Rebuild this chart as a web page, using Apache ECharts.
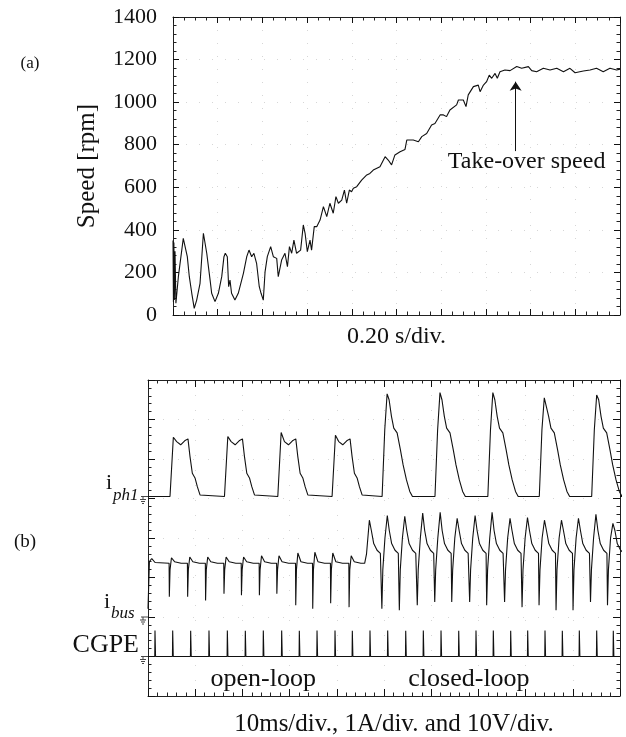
<!DOCTYPE html>
<html>
<head>
<meta charset="utf-8">
<title>Speed and currents</title>
<script src="https://cdn.jsdelivr.net/npm/echarts@6/dist/echarts.min.js"></script>
<style>
  html, body { margin: 0; padding: 0; background: #fff; }
  #main { width: 626px; height: 737px; }
</style>
</head>
<body>
<div id="main"></div>
<script>
var serif = "'Liberation Serif', 'Times New Roman', serif";

// ---- (a) speed trace, time in s (0.20 s/div), speed in rpm
var speedTime = [0.000,0.002,0.004,0.006,0.009,0.013,0.024,0.046,0.054,0.064,0.073,0.084,0.095,0.106,0.121,0.136,0.140,0.151,0.166,0.173,0.188,0.203,0.218,0.228,0.234,0.243,0.249,0.255,0.262,0.277,0.292,0.315,0.330,0.340,0.352,0.362,0.374,0.386,0.394,0.404,0.412,0.422,0.437,0.449,0.464,0.471,0.486,0.501,0.512,0.521,0.531,0.541,0.553,0.571,0.583,0.591,0.601,0.613,0.620,0.632,0.643,0.658,0.673,0.688,0.702,0.717,0.729,0.740,0.755,0.767,0.777,0.789,0.799,0.807,0.822,0.844,0.867,0.881,0.896,0.926,0.949,0.963,0.978,0.993,1.016,1.038,1.046,1.075,1.098,1.113,1.135,1.157,1.172,1.195,1.210,1.224,1.239,1.269,1.277,1.299,1.311,1.321,1.344,1.366,1.374,1.389,1.403,1.415,1.426,1.441,1.451,1.463,1.485,1.508,1.538,1.560,1.590,1.605,1.627,1.657,1.687,1.717,1.747,1.776,1.799,1.836,1.866,1.895,1.925,1.955,1.985,2.000];
var speedRpm = [350,60,340,70,300,55,180,360,352,274,180,102,31,70,149,384,391,290,164,102,63,102,180,274,290,274,133,164,102,70,102,196,274,305,274,290,243,133,102,70,204,274,321,274,266,180,258,290,227,321,290,352,290,305,423,384,298,352,305,415,415,446,509,462,525,478,556,525,540,587,525,587,579,595,603,634,658,665,681,697,744,728,705,752,767,778,822,822,814,838,853,893,900,940,940,932,963,987,1010,1010,979,1034,1073,1080,1049,1080,1096,1127,1112,1135,1112,1143,1151,1148,1167,1159,1167,1148,1143,1159,1151,1159,1143,1159,1138,1146,1151,1159,1143,1159,1151,1155];
var takeOver = [1.533, 770, 1096];   // time, arrow foot, arrow tip

// ---- (b) scope traces, time in ms (10 ms/div), 8 vertical divisions
var groundPh = 5.05, groundBus = 2.0, groundCg = 1.0;   // trace ground levels [div]

// i_ph1 [A]: pulse starts, peaks and the two pulse shapes
var phStart = [4.66, 16.2, 27.5, 39.0, 49.6, 60.8, 72.0, 82.9, 94.0];
var phPeak  = [1.50, 1.52, 1.62, 1.55, 2.60, 2.63, 2.63, 2.50, 2.57];
var phOpenT   = [0, 0.71, 1.41, 2.26, 3.11, 3.81, 4.24, 4.73, 5.30, 5.79, 6.36, 6.64];
var phOpenA   = [0, 1.50, 1.39, 1.31, 1.41, 1.46, 1.01, 0.59, 0.47, 0.25, 0.04, 0];
var phClosedT = [0, 0.56, 1.06, 1.48, 1.98, 2.47, 3.18, 3.60, 3.88, 4.45, 5.16, 5.86, 6.43];
var phClosedA = [0, 1.69, 2.60, 2.45, 2.03, 1.73, 1.61, 1.56, 1.18, 0.80, 0.42, 0.13, 0];

// i_bus [A]: open-loop notches, closed-loop peaks
var busDipT  = [4.52, 8.40, 12.2, 16.1, 19.8, 23.6, 27.3, 31.3, 34.9, 38.7, 42.6];
var busDipA  = [0.51, 0.51, 0.42, 0.59, 0.55, 0.55, 0.59, 0.30, 0.21, 0.35, 0.25];
var busBumpA = [1.50, 1.52, 1.52, 1.52, 1.52, 1.55, 1.55, 1.62, 1.64, 1.62, 1.55];
var busPeakT = [46.9, 50.7, 54.4, 58.2, 61.9, 65.5, 69.3, 72.9, 76.7, 80.4, 84.0, 87.6, 91.2, 94.9, 98.5];
var busPeakA = [2.45, 2.57, 2.55, 2.63, 2.65, 2.50, 2.57, 2.65, 2.50, 2.52, 2.45, 2.45, 2.50, 2.60, 2.37];
var busNotchA = [null, 0.21, 0.17, 0.30, 0.38, 0.38, 0.38, 0.30, 0.38, 0.25, 0.30, 0.17, 0.17, 0.38, 0.30];
var busDecayT = [0.42, 0.92, 1.63, 2.33];
var busDecayA = [2.19, 1.86, 1.69, 1.61];

// CGPE [V]: gate pulses
var cgpeT = [1.48, 5.23, 9.04, 12.92, 16.81, 20.62, 24.43, 28.32, 32.06, 35.81, 39.62, 43.29, 47.03, 50.78, 54.60, 58.33, 62.08, 65.83, 69.49, 73.16, 76.84, 80.44, 84.11, 87.78, 91.38, 95.06, 98.58];
var cgpeV = [6.6, 6.6, 6.5, 6.6, 6.6, 6.5, 6.6, 6.6, 6.5, 6.6, 6.6, 6.5, 6.6, 6.6, 6.5, 6.6, 6.6, 6.5, 6.6, 6.6, 6.5, 6.6, 6.6, 6.5, 6.6, 6.6, 6.5];

// ---- build series data
var speedData = speedTime.map(function (t, i) { return [t, speedRpm[i]]; });

var phData = [[0, groundPh]];
phStart.forEach(function (t0, k) {
    var open = k < 4;
    var T = open ? phOpenT : phClosedT;
    var A = open ? phOpenA : phClosedA;
    var peakIdx = open ? 1 : 2;
    T.forEach(function (dt, j) {
        var a = j === peakIdx ? phPeak[k] : A[j];
        phData.push([t0 + dt, groundPh + a]);
    });
});
phData.push([100, groundPh]);

var busData = [[0, groundBus + 0.21], [0.3, groundBus + 1.40], [0.8, groundBus + 1.48], [1.5, groundBus + 1.38]];
busDipT.forEach(function (t, k) {
    busData.push([t - 0.05, groundBus + 1.36]);
    busData.push([t, groundBus + busDipA[k]]);
    busData.push([t + 0.15, groundBus + 1.20]);
    busData.push([t + 0.45, groundBus + busBumpA[k]]);
    busData.push([t + 1.1, groundBus + 1.40]);
    busData.push([t + 2.5, groundBus + 1.36]);
});
busData.push([45.9, groundBus + 1.36], [46.3, groundBus + 1.6]);
busPeakT.forEach(function (tp, k) {
    if (busNotchA[k] !== null) {
        busData.push([tp - 1.2, groundBus + 1.58]);
        busData.push([tp - 1.15, groundBus + busNotchA[k]]);
        busData.push([tp - 0.95, groundBus + 1.2]);
        busData.push([tp - 0.5, groundBus + 2.0]);
    }
    busData.push([tp, groundBus + busPeakA[k]]);
    busDecayT.forEach(function (dt, j) {
        busData.push([tp + dt, groundBus + busDecayA[j]]);
    });
});

var cgData = [[0, groundCg]];
cgpeT.forEach(function (t, k) {
    cgData.push([t - 0.05, groundCg], [t, groundCg + cgpeV[k] / 10], [t + 0.12, groundCg]);
});
cgData.push([100, groundCg]);

// ---- chart
var chart = echarts.init(document.getElementById('main'), null, { renderer: 'canvas' });

function boxAxis(grid, pos, min, max, interval, minor, tickLen) {
    return {
        type: 'value', gridIndex: grid, position: pos,
        min: min, max: max, interval: interval,
        axisLine: { show: true, onZero: false, lineStyle: { color: '#222', width: 1 } },
        axisTick: { show: true, inside: true, length: tickLen, lineStyle: { color: '#111', width: 1 } },
        minorTick: { show: true, splitNumber: minor, length: 3.5, lineStyle: { color: '#222', width: 1 } },
        axisLabel: { show: false },
        splitLine: { show: false }
    };
}

var xa0 = boxAxis(0, 'bottom', 0, 2, 0.2, 4, 6);
xa0.splitLine = { show: true, lineStyle: { color: '#d6d6d6', type: [1, 12] } };
xa0.name = '0.20 s/div.';
xa0.nameLocation = 'middle';
xa0.nameGap = 10;
xa0.nameTextStyle = { fontFamily: serif, fontSize: 24, color: '#111', verticalAlign: 'top' };

var ya0 = boxAxis(0, 'left', 0, 1400, 200, 5, 6);
ya0.axisLabel = { show: true, fontFamily: serif, fontSize: 22, color: '#111', margin: 16,
                  formatter: function (v) { return String(v); } };
ya0.splitLine = { show: true, lineStyle: { color: '#d6d6d6', type: [1, 12] } };
ya0.name = 'Speed [rpm]';
ya0.nameLocation = 'middle';
ya0.nameGap = 73;
ya0.nameTextStyle = { fontFamily: serif, fontSize: 25, color: '#111' };

var xa1 = boxAxis(1, 'bottom', 0, 100, 10, 5, 7);
xa1.splitLine = { show: true, lineStyle: { color: '#d6d6d6', type: [1, 14] } };
var ya1 = boxAxis(1, 'left', 0, 8, 1, 5, 7);
ya1.splitLine = { show: true, lineStyle: { color: '#d6d6d6', type: [1, 14] } };

var option = {
    backgroundColor: '#fff',
    animation: false,
    grid: [
        { left: 173, top: 17, width: 447, height: 298 },
        { left: 148, top: 380, width: 472, height: 316 }
    ],
    xAxis: [
        xa0,
        boxAxis(0, 'top', 0, 2, 0.2, 4, 6),
        xa1,
        boxAxis(1, 'top', 0, 100, 10, 5, 7)
    ],
    yAxis: [
        ya0,
        boxAxis(0, 'right', 0, 1400, 200, 5, 6),
        ya1,
        boxAxis(1, 'right', 0, 8, 1, 5, 7)
    ],
    series: [
        {
            name: 'speed', type: 'line', xAxisIndex: 0, yAxisIndex: 0,
            data: speedData, showSymbol: false, symbol: 'none',
            lineStyle: { color: '#111', width: 1.1 },
            markLine: {
                silent: true, symbol: ['none', 'arrow'], symbolSize: 9,
                label: { show: false },
                lineStyle: { color: '#111', width: 1, type: 'solid' },
                data: [[{ coord: [takeOver[0], takeOver[1]] }, { coord: [takeOver[0], takeOver[2]] }]]
            }
        },
        {
            name: 'iph1', type: 'line', xAxisIndex: 2, yAxisIndex: 2,
            data: phData, showSymbol: false, symbol: 'none',
            lineStyle: { color: '#111', width: 1.1 }
        },
        {
            name: 'ibus', type: 'line', xAxisIndex: 2, yAxisIndex: 2,
            data: busData, showSymbol: false, symbol: 'none',
            lineStyle: { color: '#111', width: 1.1 }
        },
        {
            name: 'CGPE', type: 'line', xAxisIndex: 2, yAxisIndex: 2,
            data: cgData, showSymbol: false, symbol: 'none',
            lineStyle: { color: '#111', width: 1.1 }
        }
    ]
};
chart.setOption(option);

// ---- annotations
function px(gridIndex, pt) { return chart.convertToPixel({ gridIndex: gridIndex }, pt); }
function txt(x, y, s, size, extra) {
    var st = { text: s, x: x, y: y, fill: '#111', font: size + 'px ' + serif, align: 'center', verticalAlign: 'middle' };
    if (extra) for (var k in extra) st[k] = extra[k];
    return { type: 'text', style: st, silent: true };
}
function ground(gy) {
    var p = px(1, [0, gy]);
    var x = p[0], y = p[1];
    var ln = function (x1, y1, x2, y2) {
        return { type: 'line', shape: { x1: x1, y1: y1, x2: x2, y2: y2 }, style: { stroke: '#444', lineWidth: 1 }, silent: true };
    };
    return [ln(x - 7, y, x, y), ln(x - 5, y, x - 5, y + 3), ln(x - 8, y + 3, x - 2, y + 3), ln(x - 7, y + 5, x - 3, y + 5), ln(x - 6, y + 7, x - 4, y + 7)];
}

var arrowFoot = px(0, [takeOver[0], takeOver[1]]);
var pOpen = px(1, [24.4, 0.42]);
var pClosed = px(1, [68.0, 0.42]);
var pCap = px(1, [52.1, 0]);
var gPh = px(1, [0, groundPh]);
var gBus = px(1, [0, groundBus]);
var gCg = px(1, [0, groundCg]);

var graphics = [
    txt(30, 64, '(a)', 17),
    txt(25, 542, '(b)', 19),
    txt(arrowFoot[0] + 11, arrowFoot[1] + 11, 'Take-over speed', 24),
    txt(pOpen[0], pOpen[1], 'open-loop', 26),
    txt(pClosed[0], pClosed[1], 'closed-loop', 26),
    txt(pCap[0], pCap[1] + 28, '10ms/div., 1A/div. and 10V/div.', 25),
    txt(112, gPh[1] - 2, 'i', 22, { align: 'right', verticalAlign: 'bottom' }),
    txt(113, gPh[1] + 8, 'ph1', 17, { align: 'left', verticalAlign: 'bottom', font: 'italic 17px ' + serif }),
    txt(110, gBus[1] - 4, 'i', 22, { align: 'right', verticalAlign: 'bottom' }),
    txt(111, gBus[1] + 5, 'bus', 17, { align: 'left', verticalAlign: 'bottom', font: 'italic 17px ' + serif }),
    txt(139, gCg[1] + 2, 'CGPE', 26, { align: 'right', verticalAlign: 'bottom' })
];
graphics = graphics.concat(ground(groundPh), ground(groundBus), ground(groundCg));
chart.setOption({ graphic: graphics });
</script>
</body>
</html>
